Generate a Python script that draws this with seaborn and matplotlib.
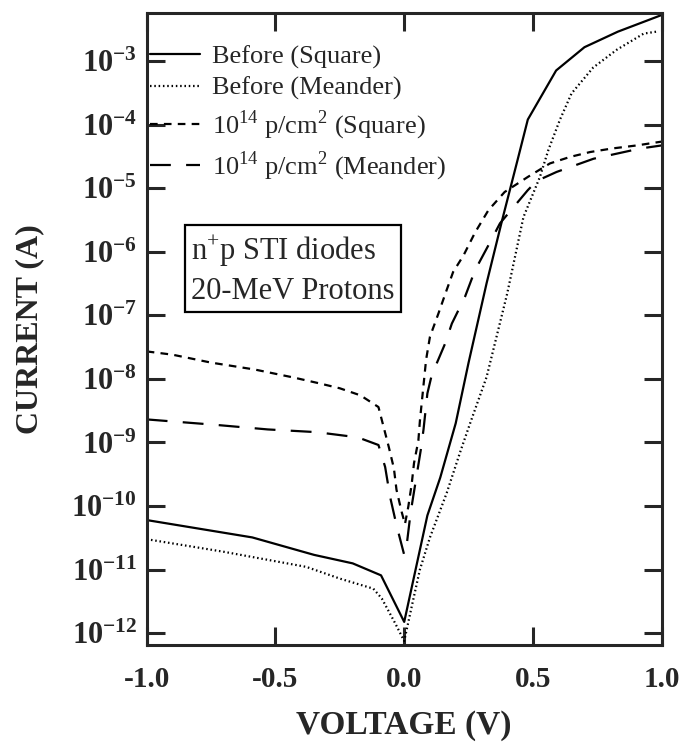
import numpy as np
import pandas as pd
import matplotlib
matplotlib.use("Agg")
import matplotlib.pyplot as plt
import matplotlib.ticker as mticker
import seaborn as sns

# I-V curves of n+p STI diodes (current in A)
v_before_sq = [-1.0, -0.59, -0.35, -0.20, -0.09, 0.0, 0.09, 0.14, 0.20, 0.25,
               0.32, 0.38, 0.44, 0.48, 0.59, 0.70, 0.83, 1.0]
i_before_sq = [6.0e-11, 3.2e-11, 1.7e-11, 1.25e-11, 8.1e-12, 1.5e-12, 7.1e-11,
               2.8e-10, 2.0e-9, 1.8e-8, 3.2e-7, 3.1e-6, 2.75e-5, 1.2e-4,
               7.1e-4, 1.65e-3, 2.9e-3, 5.3e-3]

v_before_me = [-1.0, -0.70, -0.38, -0.25, -0.12, -0.087, -0.036, 0.0, 0.029,
               0.061, 0.10, 0.165, 0.22, 0.256, 0.32, 0.40, 0.463, 0.527, 0.56,
               0.605, 0.65, 0.734, 0.825, 0.93, 0.98]
i_before_me = [3.0e-11, 1.9e-11, 1.1e-11, 7.2e-12, 5.0e-12, 3.5e-12, 1.45e-12,
               7.5e-13, 2.6e-12, 1.0e-11, 3.2e-11, 1.6e-10, 7.6e-10, 2.0e-9,
               1.07e-8, 2.2e-7, 3.5e-6, 1.5e-5, 4.0e-5, 1.2e-4, 3.1e-4, 7.9e-4,
               1.5e-3, 2.7e-3, 2.9e-3]

v_irr_sq = [-1.0, -0.90, -0.75, -0.58, -0.43, -0.33, -0.25, -0.17, -0.10,
            -0.08, -0.06, -0.04, -0.03, -0.01, 0.003, 0.016, 0.029, 0.038,
            0.055, 0.061, 0.085, 0.10, 0.133, 0.16, 0.19, 0.23, 0.275, 0.327,
            0.39, 0.48, 0.566, 0.644, 0.722, 0.806, 0.903, 1.0]
i_irr_sq = [2.7e-8, 2.4e-8, 1.8e-8, 1.4e-8, 1.05e-8, 8.5e-9, 7.1e-9, 5.5e-9,
            3.6e-9, 1.75e-9, 8.5e-10, 3.9e-10, 1.8e-10, 8.1e-11, 5.2e-11,
            9.8e-11, 2.2e-10, 4.7e-10, 1.07e-9, 2.2e-9, 2.0e-8, 4.6e-8, 1.07e-7,
            2.2e-7, 4.8e-7, 8.7e-7, 2.0e-6, 4.5e-6, 8.7e-6, 1.5e-5, 2.45e-5,
            3.1e-5, 3.7e-5, 4.2e-5, 4.7e-5, 5.4e-5]

v_irr_me = [-1.0, -0.74, -0.53, -0.34, -0.18, -0.10, -0.074, -0.055, -0.03,
            0.0, 0.01, 0.025, 0.045, 0.065, 0.075, 0.09, 0.107, 0.159, 0.185,
            0.236, 0.275, 0.333, 0.372, 0.48, 0.515, 0.592, 0.735, 0.916, 1.0]
i_irr_me = [2.3e-9, 1.9e-9, 1.6e-9, 1.45e-9, 1.2e-9, 9.1e-10, 4.1e-10, 1.4e-10,
            5.0e-11, 1.7e-11, 2.5e-11, 7.9e-11, 2.5e-10, 7.9e-10, 1.6e-9,
            5.9e-9, 1.15e-8, 3.6e-8, 7.4e-8, 1.95e-7, 5.1e-7, 1.4e-6, 2.8e-6,
            9.3e-6, 1.3e-5, 1.8e-5, 2.9e-5, 4.2e-5, 4.7e-5]

labels = ["Before (Square)", "Before (Meander)",
          r"10$^{14}$ p/cm$^{2}$ (Square)", r"10$^{14}$ p/cm$^{2}$ (Meander)"]
styles = ["-", (0, (1.1, 2.0)), (0, (5.5, 4.5)), (0, (15, 11))]

sns.set_style("ticks")
plt.rcParams["font.family"] = ["Liberation Serif", "DejaVu Serif"]
plt.rcParams["mathtext.fontset"] = "custom"
plt.rcParams["mathtext.rm"] = "Liberation Serif"
plt.rcParams["mathtext.bf"] = "Liberation Serif:bold"
plt.rcParams["lines.scale_dashes"] = False

fig = plt.figure(figsize=(6.84, 7.45), dpi=100)
ax = fig.add_axes([0.2145, 0.134, 0.7529, 0.8485])

series = [(v_before_sq, i_before_sq), (v_before_me, i_before_me),
          (v_irr_sq, i_irr_sq), (v_irr_me, i_irr_me)]
for (v, i), lab, ls in zip(series, labels, styles):
    df = pd.DataFrame({"V": v, "I": i})
    sns.lineplot(data=df, x="V", y="I", ax=ax, color="black", lw=1.6,
                 linestyle=ls, label=lab, estimator=None, sort=False)

ax.set_yscale("log")
ax.set_xlim(-1.0, 1.0)
ax.set_ylim(10 ** -12.19, 10 ** -2.245)
ax.set_xticks([-1.0, -0.5, 0.0, 0.5, 1.0])
ax.set_yticks([10.0 ** k for k in range(-12, -2)])
ax.yaxis.set_minor_locator(mticker.NullLocator())
ax.xaxis.set_major_formatter(mticker.FormatStrFormatter("%.1f"))
ax.yaxis.set_major_formatter(mticker.FuncFormatter(
    lambda y, p: r"$\mathbf{10^{%d}}$" % round(np.log10(y))))

ax.tick_params(which="major", direction="in", length=13, width=2.2,
               top=True, right=True)
ax.tick_params(axis="x", pad=15, labelsize=21)
ax.tick_params(axis="y", pad=7, labelsize=22)
for lbl in ax.get_xticklabels():
    lbl.set_fontweight("bold")
for sp in ax.spines.values():
    sp.set_linewidth(2.2)

ax.set_xlabel("VOLTAGE (V)", fontsize=24, fontweight="bold")
ax.set_ylabel("CURRENT (A)", fontsize=23, fontweight="bold")
ax.xaxis.set_label_coords(0.5, -0.102)
ax.yaxis.set_label_coords(-0.200, 0.5)

ax.legend(loc="upper left", bbox_to_anchor=(0.006, 0.950), frameon=False,
          fontsize=19, handlelength=1.9, handletextpad=0.45,
          labelspacing=0.3, borderpad=0, borderaxespad=0)

ax.text(0.086, 0.652, "n$^{+}$p STI diodes\n20-MeV Protons",
        transform=ax.transAxes, fontsize=22, va="top", ha="left",
        linespacing=1.38,
        bbox=dict(boxstyle="square,pad=0.2", fc="white", ec="black", lw=1.6))

fig.savefig("out.png", dpi=100, facecolor="white")
